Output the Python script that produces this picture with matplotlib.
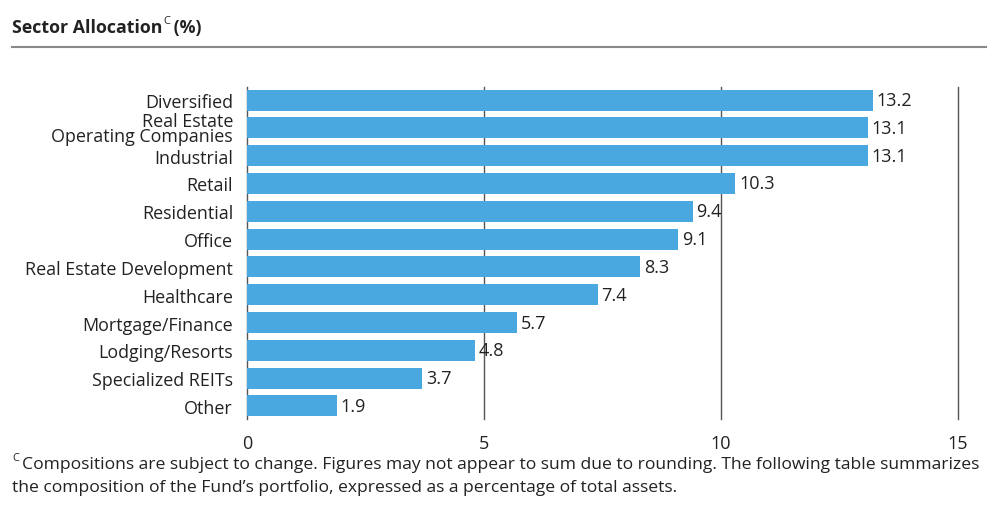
import matplotlib
matplotlib.use("Agg")
import matplotlib.pyplot as plt

categories = ["Diversified", "Real Estate\nOperating Companies", "Industrial", "Retail",
              "Residential", "Office", "Real Estate Development", "Healthcare",
              "Mortgage/Finance", "Lodging/Resorts", "Specialized REITs", "Other"]
values = [13.2, 13.1, 13.1, 10.3, 9.4, 9.1, 8.3, 7.4, 5.7, 4.8, 3.7, 1.9]
value_labels = ["13.2", "13.1", "13.1", "10.3", "9.4", "9.1", "8.3", "7.4", "5.7", "4.8", "3.7", "1.9"]
xticks = [0, 5, 10, 15]

FONT = "Open Sans"
plt.rcParams["font.family"] = [FONT, "DejaVu Sans"]
TXT = "#222222"
BAR = "#4aa8e0"
GRID = "#555555"

W, H = 992, 510
fig = plt.figure(figsize=(W / 100, H / 100), dpi=100)
ax = fig.add_axes([247 / W, 1 - 420 / H, (958 - 247) / W, 332 / H])

ypos = list(range(len(categories)))
ax.barh(ypos, values, height=0.76, color=BAR, zorder=2)
ax.set_xlim(0, 15)
ax.set_ylim(len(categories) - 0.53, -0.47)
for s in ax.spines.values():
    s.set_visible(False)
for x in xticks:
    ax.axvline(x, color=GRID, lw=1.0, zorder=1, clip_on=False)
ax.set_xticks(xticks)
ax.set_xticklabels([str(x) for x in xticks], fontsize=13, color=TXT)
ax.tick_params(axis="x", length=0, pad=11)
ax.set_yticks(ypos)
ax.set_yticklabels(categories, fontsize=12.9, color=TXT, linespacing=0.8)
ax.tick_params(axis="y", length=0, pad=10)

for y, v, lab in zip(ypos, values, value_labels):
    ax.text(v + 0.08, y, lab, va="center", ha="left", fontsize=13, color=TXT)

# Title with superscript
fig.canvas.draw()
r = fig.canvas.get_renderer()
t1 = fig.text(12 / W, 1 - 28 / H, "Sector Allocation", fontsize=12.8, fontweight="bold",
              color=TXT, va="center", ha="left")
bb = t1.get_window_extent(r)
t2 = fig.text((bb.x1 + 0.5) / W, 1 - 22 / H, "C", fontsize=8, color=TXT, va="center", ha="left")
bb2 = t2.get_window_extent(r)
fig.text((bb2.x1 - 1) / W, 1 - 28 / H, " (%)", fontsize=12.8, fontweight="bold",
         color=TXT, va="center", ha="left")

fig.add_artist(plt.Line2D([12 / W, 986 / W], [1 - 48 / H, 1 - 48 / H], color="#888888", lw=1.5))

# Footnote
fn = fig.text(12 / W, 1 - 459 / H, "C", fontsize=8, color=TXT, va="center", ha="left")
bbf = fn.get_window_extent(r)
fig.text((bbf.x1 + 3) / W, 1 - 465 / H,
         "Compositions are subject to change. Figures may not appear to sum due to rounding. The following table summarizes",
         fontsize=12.6, color=TXT, va="center", ha="left")
fig.text(12 / W, 1 - 488 / H,
         "the composition of the Fund\u2019s portfolio, expressed as a percentage of total assets.",
         fontsize=12.6, color=TXT, va="center", ha="left")

fig.savefig("out.png", dpi=100)
